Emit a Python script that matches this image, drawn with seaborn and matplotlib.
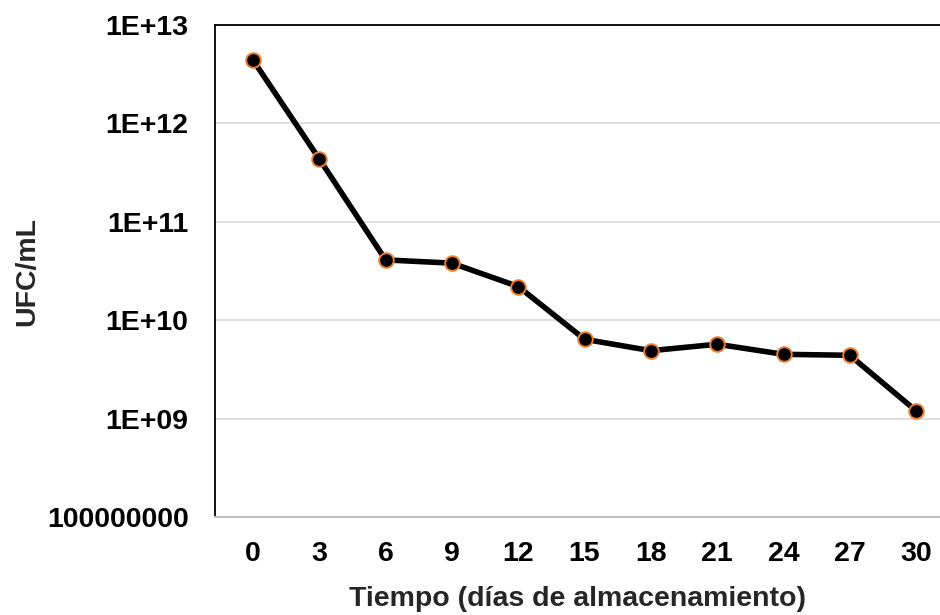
import matplotlib
matplotlib.use("Agg")
import matplotlib.pyplot as plt
import seaborn as sns
import pandas as pd
from matplotlib.ticker import FixedLocator, FixedFormatter, NullLocator

dias = [0, 3, 6, 9, 12, 15, 18, 21, 24, 27, 30]
ufc = [4.4e12, 4.35e11, 4.1e10, 3.8e10, 2.2e10, 6.4e9, 4.9e9, 5.7e9, 4.5e9, 4.4e9, 1.2e9]
ytick_vals = [1e8, 1e9, 1e10, 1e11, 1e12, 1e13]
ytick_labels = ["100000000", "1E+09", "1E+10", "1E+11", "1E+12", "1E+13"]

sns.set_theme(style="white")
plt.rcParams['font.family'] = ['Liberation Sans', 'DejaVu Sans']

df = pd.DataFrame({"dias": dias, "ufc": ufc})

fig = plt.figure(figsize=(9.4, 6.15), dpi=100)
ax = fig.add_axes([215/940, 1 - 517/615, 1 - 215/940, (517-25)/615])

sns.lineplot(data=df, x="dias", y="ufc", ax=ax, color="black", linewidth=4.0,
             marker="o", markersize=10.5, markerfacecolor="black",
             markeredgecolor="#ED7D31", markeredgewidth=1.4, zorder=3)

ax.set_yscale("log")
ax.set_ylim(1e8, 1e13)
ax.yaxis.set_major_locator(FixedLocator(ytick_vals))
ax.yaxis.set_major_formatter(FixedFormatter(ytick_labels))
ax.yaxis.set_minor_locator(NullLocator())
ax.set_xlim(-0.573 * 3, 10.36 * 3)
ax.set_xticks(dias)
ax.set_xticklabels([str(d) for d in dias])

ax.grid(axis="y", color="#D9D9D9", linewidth=1.2)
ax.set_axisbelow(True)

for s in ["left", "top"]:
    ax.spines[s].set_color("black")
    ax.spines[s].set_linewidth(1.3)
ax.spines["bottom"].set_color("#BFBFBF")
ax.spines["bottom"].set_linewidth(1.5)
ax.spines["right"].set_visible(False)

ax.tick_params(axis="both", length=0, labelsize=20.5, colors="black")
ax.tick_params(axis="y", pad=19)
ax.tick_params(axis="x", pad=17)
for lbl in ax.get_xticklabels() + ax.get_yticklabels():
    lbl.set_fontweight("bold")

ax.set_xlabel("Tiempo (días de almacenamiento)", fontsize=20.5, fontweight="bold", labelpad=14)
ax.set_ylabel("UFC/mL", fontsize=20.5, fontweight="bold")
ax.yaxis.set_label_coords((27 - 215) / 725, 0.5)
ax.yaxis.label.set_verticalalignment("center")

fig.savefig("out.png", dpi=100)
